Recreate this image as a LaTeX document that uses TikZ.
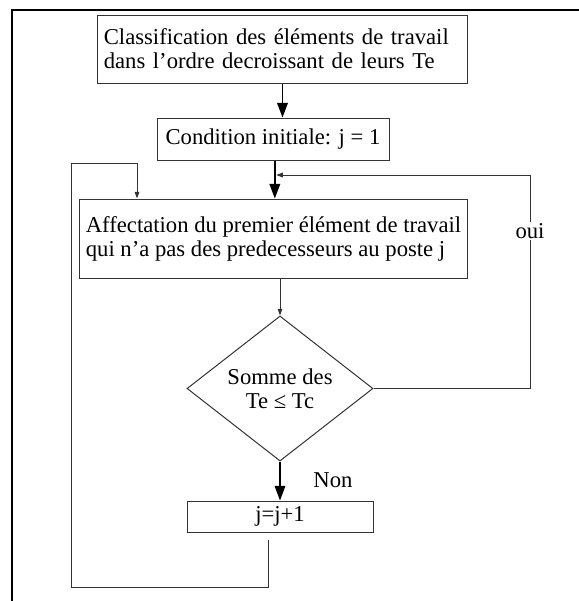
\documentclass[tikz,border=0pt]{standalone}
\usepackage{fontspec}
\setmainfont{Liberation Serif}
\usetikzlibrary{shapes.geometric,arrows.meta}
\tikzset{
  box/.style = {rectangle, draw=black!80, line width=0.75pt,
                inner xsep=5pt, inner ysep=0pt, align=left,
                font=\fontsize{17}{18}\selectfont},
  test/.style = {diamond, draw=black!80, line width=0.75pt,
                 inner sep=0pt, align=center,
                 font=\fontsize{17}{18}\selectfont},
  bigarrow/.style = {-{Triangle[length=11pt,width=8pt]}, line width=1.1pt, black},
  smallarrow/.style = {-{Triangle[length=5pt,width=3.5pt]}, line width=0.75pt, black!80},
  loopline/.style = {line width=0.75pt, black!80},
  lbl/.style = {inner sep=1pt, font=\fontsize{17}{18}\selectfont}
}

\begin{document}
\begin{tikzpicture}[x=0.75pt, y=-0.75pt]
	\def \px{0.75pt}
	
	\useasboundingbox (0,0) rectangle (579,601);
	
	% Frame
	\draw[line width=1.5pt] (12,601) -- (12,10) -- (579,10);
	
	% Boxes
	\node[box, text width=268pt, minimum height=68*\px] (cls) at (282.5,49)
		{Classification des éléments de travail\\dans l’ordre decroissant de leurs Te};
	\node[box, align=center, minimum width=232*\px, minimum height=42*\px] (init) at (273,139)
		{Condition initiale: j = 1};
	\node[box, inner xsep=0pt, minimum width=388*\px, minimum height=79*\px] (aff) at (273.5,238.5)
		{Affectation du premier élément de travail\\qui n’a pas des predecesseurs au poste j};
	\node[test, minimum width=186*\px, minimum height=129*\px] (dec) at (280,388.5)
		{Somme des\\Te ≤ Tc};
	\node[box, align=center, minimum width=186*\px, minimum height=31*\px] (inc) at (280,516.5)
		{j=j+1};
	
	% Main flow
	\draw[bigarrow] (cls.south) -- (cls.south |- init.north);
	\draw[bigarrow] ([xshift=1pt]aff.north |- init.south) -- ([xshift=1pt]aff.north);
	\draw[smallarrow] (dec.north |- aff.south) -- (dec.north);
	\draw[bigarrow] (dec.south) -- (inc.north);
	\node[lbl] (non) at (333,480) {Non};
	
	% Loop j=j+1
	\coordinate (lp) at (268,540);
	\coordinate (c1) at (71,587);
	\coordinate (c2) at (137,163);
	\draw[loopline] (lp) |- (c1) |- (c2);
	\draw[smallarrow] (c2) -- (c2 |- aff.north);
	
	% Loop oui
	\coordinate (c3) at (530,175);
	\draw[loopline] (dec.east) -| (c3);
	\draw[smallarrow] (c3) -- ([xshift=2pt]aff.north |- c3);
	\node[lbl, fill=white] (oui) at (530,231) {oui};
	
\end{tikzpicture}
\end{document}
